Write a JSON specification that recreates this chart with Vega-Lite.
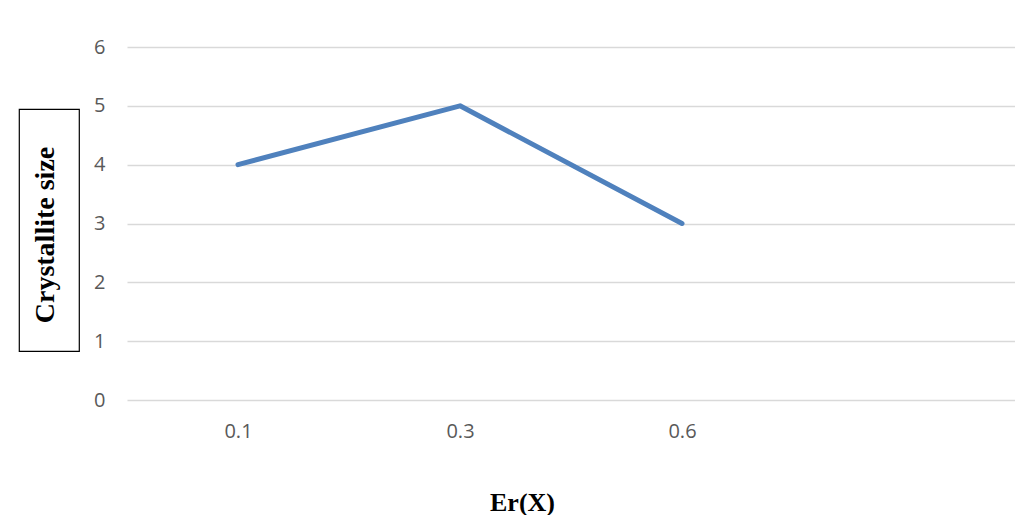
{
  "$schema": "https://vega.github.io/schema/vega-lite/v6.json",
  "padding": {"left": 18, "top": 37, "right": 0, "bottom": 0},
  "background": "white",
  "config": {"view": {"stroke": null}},
  "spacing": 13,
  "hconcat": [
    {
      "spacing": 0,
      "vconcat": [
        {
          "width": 60,
          "height": 61,
          "data": {"values": []},
          "mark": {"type": "text", "text": ""},
          "encoding": {}
        },
        {
          "width": 60,
          "height": 242,
          "view": {"stroke": "black", "strokeWidth": 1.2},
          "data": {"values": [{"label": "Crystallite size"}]},
          "mark": {"type": "text", "angle": 270, "font": "Liberation Serif", "fontWeight": "bold", "fontSize": 28, "color": "black", "baseline": "middle", "align": "center", "dx": -5, "dy": -3},
          "encoding": {"text": {"field": "label", "type": "nominal"}}
        }
      ]
    },
    {
      "width": 888,
      "height": 353,
      "data": {"values": [
        {"x": "0.1", "y": 4},
        {"x": "0.3", "y": 5},
        {"x": "0.6", "y": 3}
      ]},
      "mark": {"type": "line", "color": "#4f81bd", "strokeWidth": 5, "strokeCap": "round", "strokeJoin": "round"},
      "encoding": {
        "x": {
          "field": "x", "type": "nominal", "sort": null,
          "scale": {"domain": ["0.1", "0.3", "0.6", " "], "padding": 0.5},
          "axis": {"title": "Er(X)", "titleFont": "Liberation Serif", "titleFontWeight": "bold", "titleFontSize": 26, "titleColor": "black", "titleX": 395, "titleY": 102, "titleBaseline": "middle", "domain": false, "ticks": false, "grid": false, "labelAngle": 0, "labelColor": "#595959", "labelFont": "Open Sans", "labelFontSize": 20, "labelPadding": 21}
        },
        "y": {
          "field": "y", "type": "quantitative",
          "scale": {"domain": [0, 6], "nice": false},
          "axis": {"title": null, "values": [0, 1, 2, 3, 4, 5, 6], "grid": true, "gridColor": "#d9d9d9", "gridWidth": 1.5, "domain": false, "ticks": false, "labelColor": "#595959", "labelFont": "Open Sans", "labelFontSize": 20, "labelPadding": 22}
        }
      }
    }
  ]
}
